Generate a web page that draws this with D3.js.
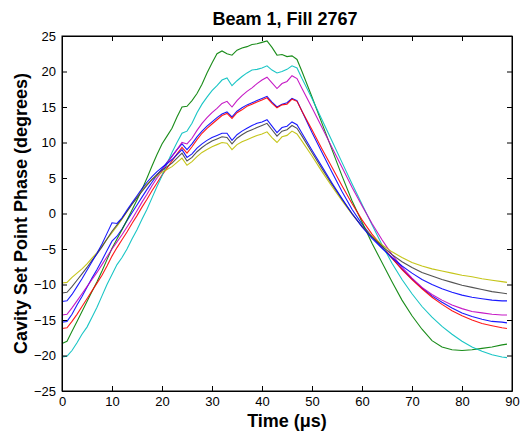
<!DOCTYPE html>
<html>
<head>
<meta charset="utf-8">
<script src="https://cdn.jsdelivr.net/npm/d3@7"></script>
<style>
  body { margin: 0; background: #fff; }
  text { font-family: "Liberation Sans", Arial, sans-serif; }
</style>
</head>
<body>
<svg id="chart" width="523" height="436"></svg>
<script>
// sample times (µs)
var times = [0,1,2,3,4,5,6,7,8,9,10,11,12,13,14,15,16,17,18,19,20,
  21,22,23,24,25,26,27,28,29,30,31,32,33,34,35,36,37,38,39,40,
  41,42,43,44,45,46,47,48,
  50,52,54,56,58,60,62,64,66,68,70,72,74,76,78,80,82,84,86,88,89]

// phase traces (degrees), one per bunch
var blueA = [-15.3,-15.2,-14.2,-12.9,-11.7,-10.4,-9.1,-7.9,-6.6,-5.2,-3.9,-3.2,-2.2,-1.0,0.1,1.2,2.3,3.4,4.4,5.4,6.3,
  7.2,8.1,9.0,9.8,9.0,9.8,10.8,11.6,12.3,12.9,13.5,14.0,14.3,13.6,14.4,14.9,15.3,15.6,15.9,16.2,
  16.5,15.7,15.0,15.4,15.6,16.2,15.9,14.4,
  11.4,8.6,5.8,3.1,0.6,-1.5,-3.3,-4.8,-6.3,-7.8,-9.2,-10.5,-11.6,-12.5,-13.3,-14.0,-14.5,-14.9,-15.2,-15.3,-15.4]

var green = [-18.3,-18.0,-16.6,-15.2,-13.8,-12.4,-11.0,-9.6,-8.1,-6.5,-4.9,-3.6,-2.3,-0.9,0.5,1.9,3.4,5.0,6.7,8.3,9.8,
  10.9,12.0,13.6,15.0,15.1,15.9,16.9,18.2,19.8,21.2,22.5,22.9,22.5,22.3,23.0,23.3,23.5,23.8,23.9,24.1,
  24.3,23.4,22.3,22.4,22.1,22.2,21.7,20.0,
  16.4,12.7,9.0,5.3,1.8,-1.2,-4.2,-6.9,-9.6,-12.2,-14.4,-16.3,-17.9,-18.8,-19.2,-19.3,-19.2,-19.0,-18.8,-18.5,-18.4]

var red = [-16.2,-16.1,-15.2,-14.2,-13.1,-12.0,-10.9,-9.8,-8.7,-7.4,-6.0,-4.8,-3.7,-2.6,-1.4,-0.3,0.9,2.0,3.2,4.3,5.4,
  6.4,7.4,8.4,9.3,8.5,9.4,10.4,11.3,12.0,12.6,13.2,13.8,14.1,13.4,14.2,14.6,15.1,15.4,15.7,16.0,
  16.3,15.5,14.9,15.3,15.4,16.1,15.8,14.4,
  11.8,9.1,6.5,3.9,1.4,-0.9,-2.9,-4.6,-6.3,-7.9,-9.3,-10.6,-11.8,-12.8,-13.7,-14.4,-15.0,-15.5,-15.8,-16.1,-16.2]

var cyan = [-20.2,-20.1,-19.3,-18.2,-17.0,-16.0,-14.6,-13.2,-11.6,-10.0,-8.6,-7.2,-6.2,-5.0,-3.6,-2.3,-0.8,0.6,2.2,3.8,5.3,
  7.0,8.6,10.0,11.3,11.6,12.7,14.2,15.4,16.4,17.3,18.0,18.8,19.1,18.0,18.7,19.3,19.8,20.2,20.3,20.5,
  20.8,20.2,19.8,20.0,20.3,20.8,20.5,19.0,
  16.2,13.2,10.2,7.2,4.2,1.3,-1.6,-4.4,-7.0,-9.3,-11.3,-13.1,-14.6,-15.9,-17.0,-18.0,-18.8,-19.4,-19.9,-20.2,-20.3]

var magenta = [-14.3,-14.2,-13.3,-12.3,-11.3,-10.3,-9.3,-8.3,-7.2,-6.1,-5.0,-4.0,-3.0,-1.9,-0.8,0.4,1.6,2.7,3.9,5.0,6.0,
  7.1,8.0,9.0,10.0,9.8,10.6,11.7,12.7,13.5,14.2,14.8,15.5,15.8,15.0,15.9,16.6,17.2,17.7,18.3,18.8,
  19.2,18.4,17.6,18.3,18.6,19.4,19.0,17.6,
  14.9,12.1,9.3,6.5,3.7,1.1,-1.4,-3.7,-5.8,-7.6,-9.1,-10.4,-11.4,-12.2,-12.9,-13.4,-13.8,-14.0,-14.2,-14.3,-14.3]

var yellow = [-9.8,-9.7,-9.0,-8.4,-7.8,-7.1,-6.3,-5.5,-4.6,-3.6,-2.7,-1.8,-0.8,0.3,1.3,2.3,3.3,4.1,4.8,5.3,5.8,
  6.2,6.6,7.2,7.8,6.8,7.3,8.0,8.6,9.0,9.4,9.7,10.0,9.9,9.0,9.7,10.1,10.4,10.7,11.0,11.2,
  11.5,10.7,10.0,10.8,11.0,11.6,11.2,10.2,
  8.1,5.9,3.8,1.8,-0.1,-1.8,-3.2,-4.4,-5.4,-6.2,-6.9,-7.4,-7.8,-8.1,-8.4,-8.7,-8.9,-9.2,-9.4,-9.6,-9.7]

var gray = [-11.2,-11.1,-10.3,-9.4,-8.5,-7.6,-6.6,-5.7,-4.7,-3.6,-2.5,-1.6,-0.7,0.3,1.3,2.2,3.1,4.0,4.8,5.5,6.1,
  6.6,7.1,7.8,8.5,7.4,7.9,8.7,9.3,9.8,10.2,10.5,10.8,10.7,9.8,10.6,11.1,11.5,11.8,12.1,12.4,
  12.7,11.8,10.9,11.6,11.8,12.4,12.0,10.9,
  8.6,6.3,4.1,2.0,0.0,-1.8,-3.3,-4.6,-5.8,-6.8,-7.6,-8.3,-8.8,-9.3,-9.7,-10.1,-10.4,-10.7,-11.0,-11.2,-11.3]

var blueB = [-12.4,-12.3,-11.4,-10.3,-9.2,-8.0,-6.8,-5.6,-4.3,-2.8,-1.3,-1.4,-0.6,0.5,1.5,2.5,3.5,4.4,5.2,5.9,6.5,
  7.0,7.6,8.3,9.0,7.9,8.4,9.2,9.8,10.3,10.7,11.0,11.3,11.3,10.3,11.1,11.6,12.0,12.4,12.7,12.9,
  13.2,12.3,11.4,12.1,12.3,12.9,12.5,11.3,
  8.9,6.6,4.3,2.1,0.0,-1.9,-3.5,-4.9,-6.2,-7.4,-8.4,-9.3,-10.0,-10.6,-11.1,-11.5,-11.8,-12.0,-12.2,-12.3,-12.3]

// plot order and colours (matlab default order)
var traces = [blueA, green, red, cyan, magenta, yellow, gray, blueB]
var colors = ['#0000ff', '#008000', '#ff0000', '#00bfbf', '#bf00bf', '#bfbf00', '#404040', '#0000ff']

var xTicks = [0, 10, 20, 30, 40, 50, 60, 70, 80, 90]
var yTicks = [-25, -20, -15, -10, -5, 0, 5, 10, 15, 20, 25]

var svg = d3.select('#chart')
var plotL = 62, plotR = 512, plotT = 36, plotB = 391

var x = d3.scaleLinear().domain([0, 90]).range([plotL, plotR])
var y = d3.scaleLinear().domain([-25, 25]).range([plotB, plotT])

// the traces
var line = d3.line()
  .x((d, i) => x(times[i]))
  .y(d => y(d))

svg.append('g')
  .selectAll('path')
  .data(traces)
  .enter()
  .append('path')
  .attr('d', line)
  .attr('fill', 'none')
  .attr('stroke', (d, i) => colors[i])
  .attr('stroke-width', 1.1)
  .attr('stroke-opacity', 0.9)

// axes, ticks pointing inwards like matlab
svg.append('g')
  .attr('transform', 'translate(0,' + plotB + ')')
  .call(d3.axisBottom(x).tickValues(xTicks).tickSizeInner(-5).tickSizeOuter(0).tickPadding(6))
svg.append('g')
  .attr('transform', 'translate(0,' + plotT + ')')
  .call(d3.axisTop(x).tickValues(xTicks).tickSizeInner(-5).tickSizeOuter(0).tickFormat(''))
svg.append('g')
  .attr('transform', 'translate(' + plotL + ',0)')
  .call(d3.axisLeft(y).tickValues(yTicks).tickSizeInner(-5).tickSizeOuter(0).tickPadding(6))
svg.append('g')
  .attr('transform', 'translate(' + plotR + ',0)')
  .call(d3.axisRight(y).tickValues(yTicks).tickSizeInner(-5).tickSizeOuter(0).tickFormat(''))

svg.selectAll('.tick text')
  .attr('font-family', '"Liberation Sans", Arial, sans-serif')
  .attr('font-size', 13)
  .attr('fill', '#000')
svg.selectAll('.domain, .tick line').attr('stroke', '#000')

svg.append('rect')
  .attr('x', plotL).attr('y', plotT)
  .attr('width', plotR - plotL).attr('height', plotB - plotT)
  .attr('fill', 'none').attr('stroke', '#000')

// labels
svg.append('text')
  .attr('x', (plotL + plotR) / 2 - 2).attr('y', 25)
  .attr('text-anchor', 'middle')
  .attr('font-weight', 'bold').attr('font-size', 18)
  .text('Beam 1, Fill 2767')

svg.append('text')
  .attr('x', (plotL + plotR) / 2).attr('y', 427)
  .attr('text-anchor', 'middle')
  .attr('font-weight', 'bold').attr('font-size', 18)
  .text('Time (μs)')

svg.append('text')
  .attr('transform', 'translate(27,' + ((plotT + plotB) / 2) + ') rotate(-90)')
  .attr('text-anchor', 'middle')
  .attr('font-weight', 'bold').attr('font-size', 18)
  .text('Cavity Set Point Phase (degrees)')
</script>
</body>
</html>
